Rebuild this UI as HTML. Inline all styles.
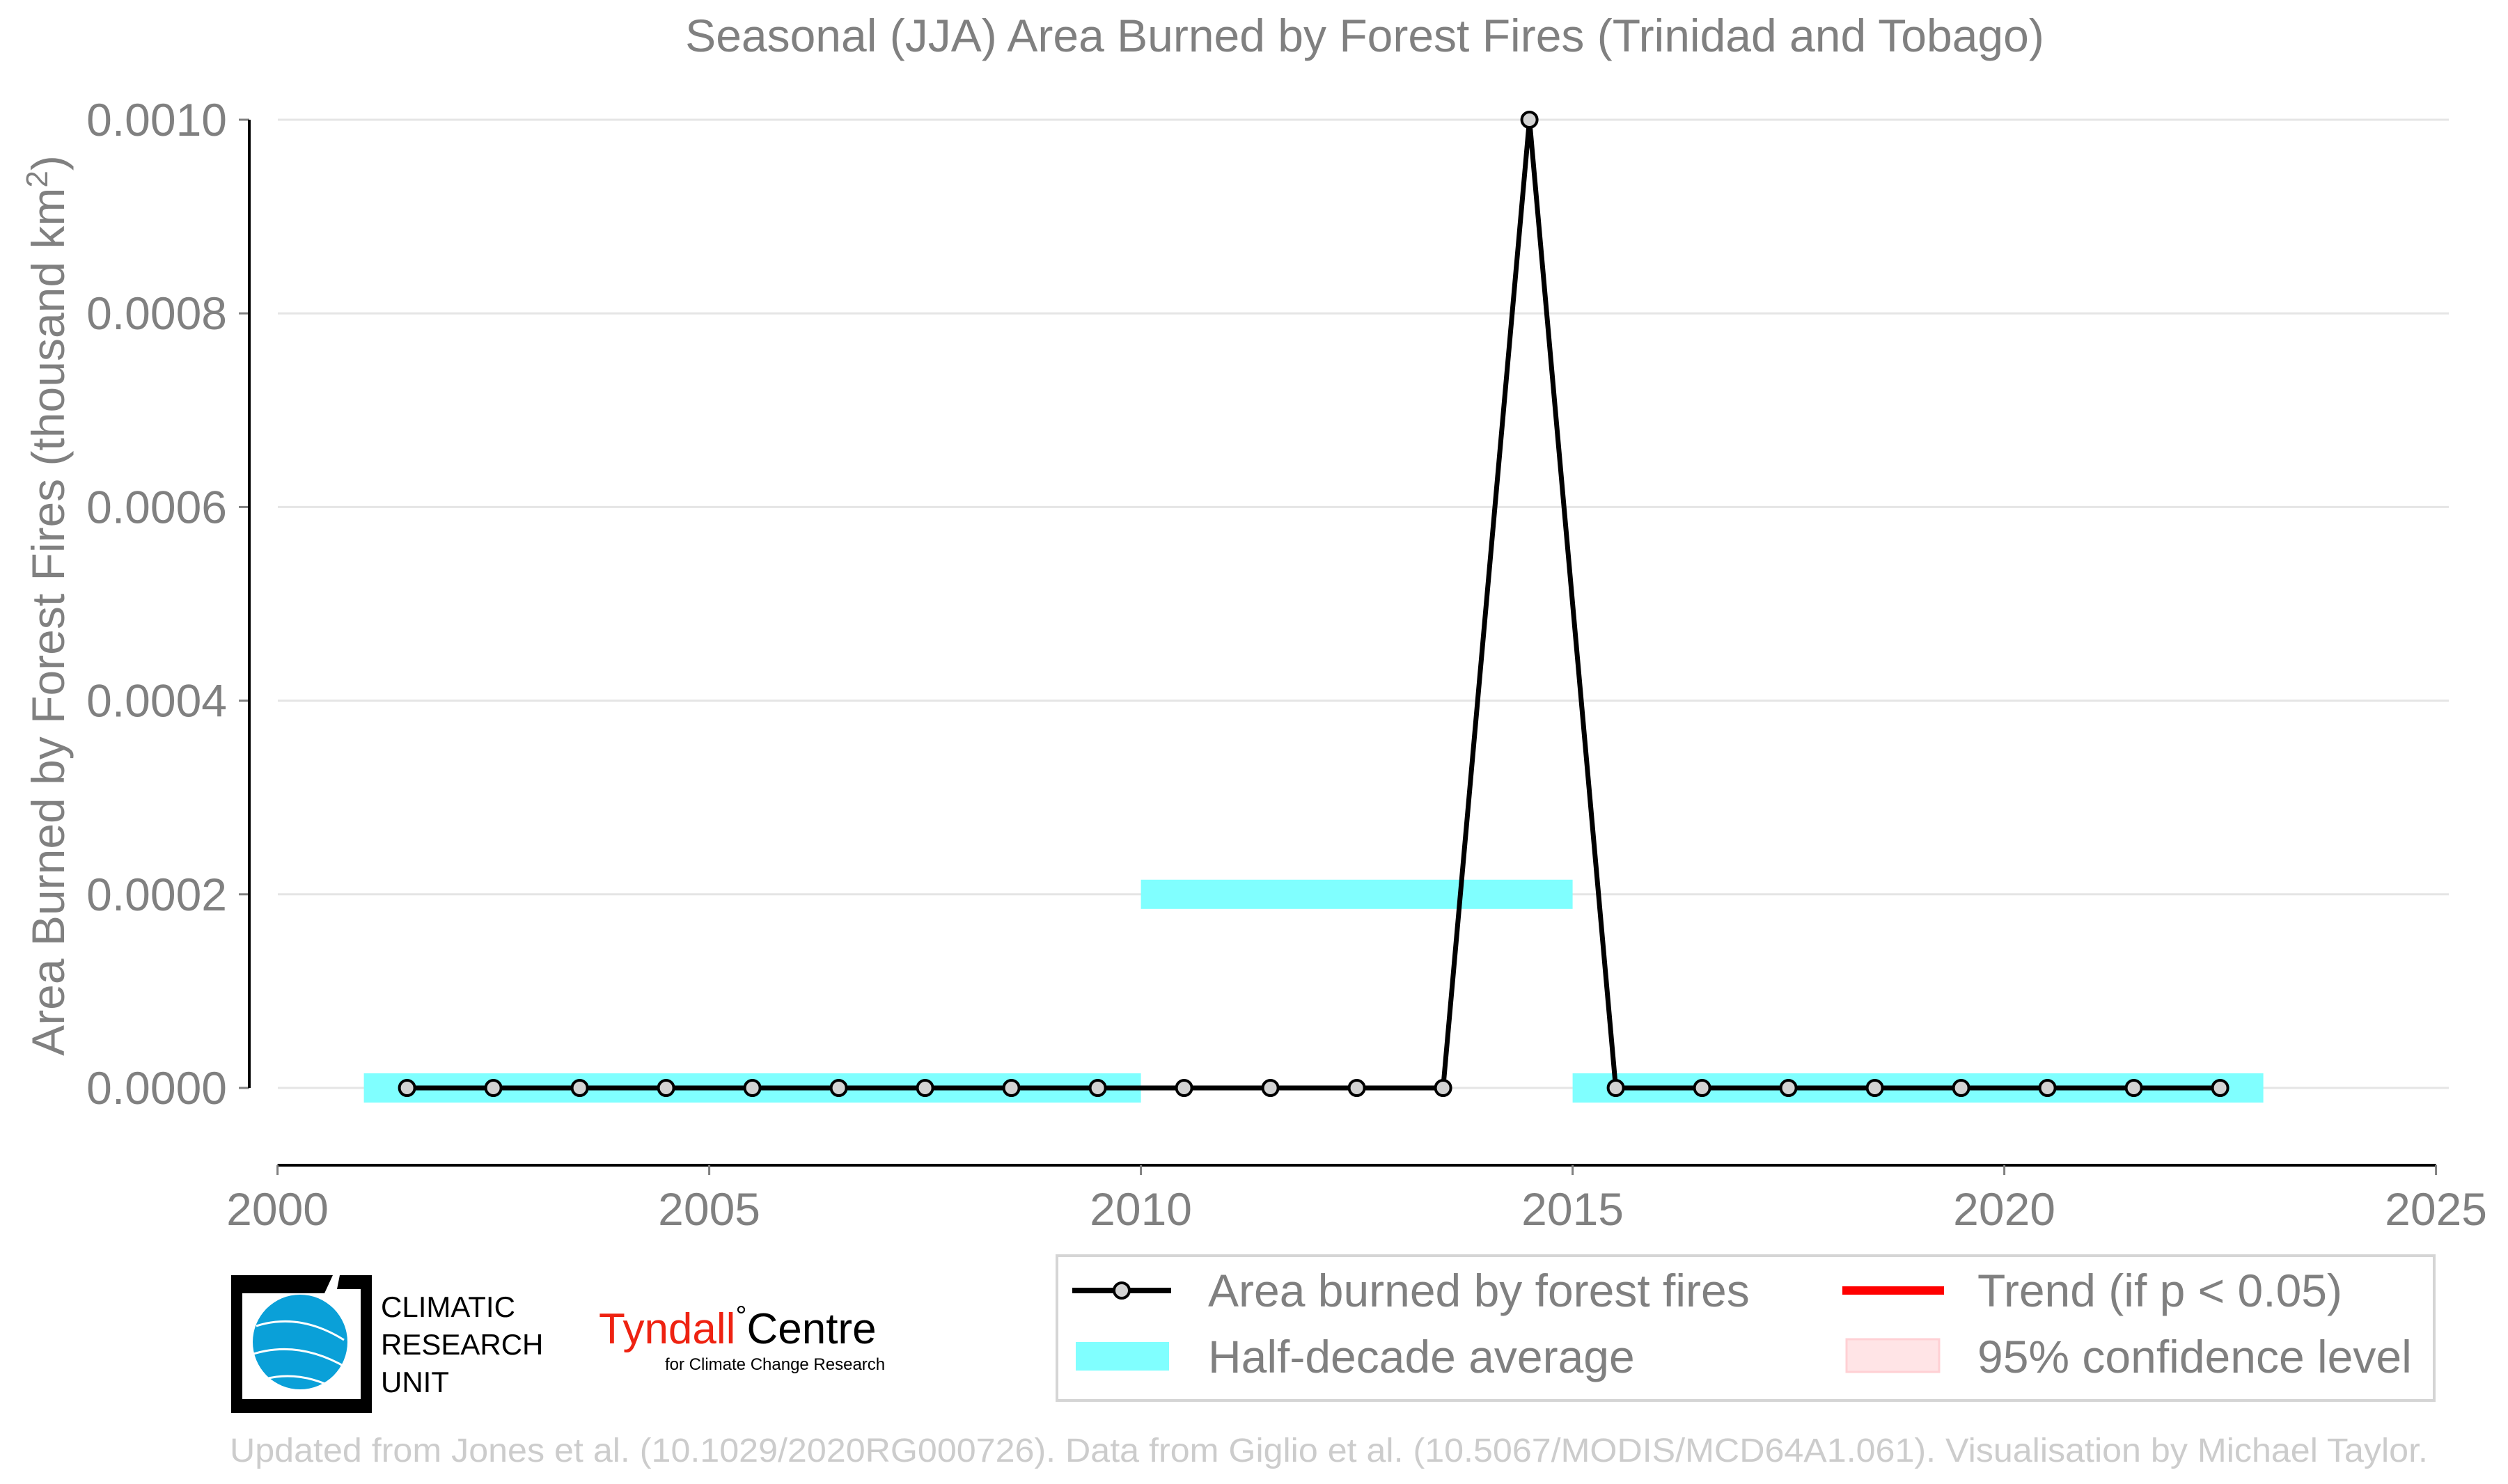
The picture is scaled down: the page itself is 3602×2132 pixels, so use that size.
<!DOCTYPE html>
<html><head><meta charset="utf-8"><style>
body{margin:0;background:#fff;}
svg{display:block;font-family:"Liberation Sans",sans-serif;}
</style></head><body>
<svg id="chart" width="3602" height="2132" viewBox="0 0 3602 2132" xmlns="http://www.w3.org/2000/svg">
<text x="1960" y="74" text-anchor="middle" font-size="66" fill="#808080">Seasonal (JJA) Area Burned by Forest Fires (Trinidad and Tobago)</text>
<text transform="translate(92,870) rotate(-90)" text-anchor="middle" font-size="66" fill="#808080">Area Burned by Forest Fires (thousand km<tspan dy="-24" font-size="44">2</tspan><tspan dy="24">)</tspan></text>
<g id="grid"></g>
<g id="bands"></g>
<g id="series"></g>
<g id="axes"></g>

<g>
<path d="M332 1832 H478 L466 1858 H348 V2010 H400 L393 2030 H332 Z" fill="#000"/>
<path d="M488 1832 H534 V2030 H386 L392 2010 H518 V1852 H484 Z" fill="#000"/>
<circle cx="431" cy="1928" r="68" fill="#0aa0d8"/>
<path d="M368 1905 Q430 1885 494 1925 M364 1945 Q430 1925 498 1965 M378 1982 Q430 1967 486 1997" stroke="#fff" stroke-width="3" fill="none"/>
<text x="547" y="1892" font-size="42" fill="#000">CLIMATIC</text>
<text x="547" y="1946" font-size="42" fill="#000">RESEARCH</text>
<text x="547" y="2000" font-size="42" fill="#000">UNIT</text>
</g>
<g>
<text x="860" y="1930" font-size="62" fill="#ee2211">Tyndall<tspan fill="#000" font-size="40" dy="-26">°</tspan><tspan fill="#000" font-size="62" dy="26">Centre</tspan></text>
<text x="955" y="1968" font-size="24" fill="#000">for Climate Change Research</text>
</g>

<g>
<rect x="1518" y="1804" width="1978" height="208" fill="#fff" stroke="#d5d5d5" stroke-width="4"/>
<line x1="1540" y1="1854" x2="1682" y2="1854" stroke="#000" stroke-width="8"/>
<circle cx="1611" cy="1854" r="11" fill="#d3d3d3" stroke="#000" stroke-width="4"/>
<text x="1735" y="1877" font-size="66" fill="#808080">Area burned by forest fires</text>
<rect x="1545" y="1928" width="134" height="41" fill="#80ffff"/>
<text x="1735" y="1972" font-size="66" fill="#808080">Half-decade average</text>
<line x1="2646" y1="1854" x2="2792" y2="1854" stroke="#ff0000" stroke-width="12"/>
<text x="2840" y="1877" font-size="66" fill="#808080">Trend (if p &lt; 0.05)</text>
<rect x="2652" y="1924" width="133" height="47" fill="#ffe4e6" stroke="#ffd0d4" stroke-width="3"/>
<text x="2840" y="1972" font-size="66" fill="#808080">95% confidence level</text>
</g>
<text x="330" y="2100" font-size="48" fill="#cccccc" textLength="3157" lengthAdjust="spacingAndGlyphs">Updated from Jones et al. (10.1029/2020RG000726). Data from Giglio et al. (10.5067/MODIS/MCD64A1.061). Visualisation by Michael Taylor.</text>
</svg>
<script>
const years=[2001,2002,2003,2004,2005,2006,2007,2008,2009,2010,2011,2012,2013,2014,2015,2016,2017,2018,2019,2020,2021,2022];
const values=[0,0,0,0,0,0,0,0,0,0,0,0,0,0.001,0,0,0,0,0,0,0,0];
const bandStarts=[2001,2010,2015];
const bandEnds=[2010,2015,2023];
const bandValues=[0,0.0002,0];
const yTicks=[0,0.0002,0.0004,0.0006,0.0008,0.001];
const yTickLabels=["0.0000","0.0002","0.0004","0.0006","0.0008","0.0010"];
const xTicks=[2000,2005,2010,2015,2020,2025];

const NS="http://www.w3.org/2000/svg";
function X(v){return 398.6+(v-2000)*124;}
function Y(v){return 1563-v/0.001*1391;}
function mk(tag,attrs,parent){const e=document.createElementNS(NS,tag);for(const k in attrs)e.setAttribute(k,attrs[k]);parent.appendChild(e);return e;}
const grid=document.getElementById('grid'),bands=document.getElementById('bands'),series=document.getElementById('series'),axes=document.getElementById('axes');
yTicks.forEach((t,i)=>{
  const g=mk('line',{x1:399,x2:3517,y1:Y(t),y2:Y(t),stroke:'#e5e5e5','stroke-width':3},grid);
  
  
  const tk=mk('line',{x1:343,x2:358,y1:Y(t),y2:Y(t),stroke:'#808080','stroke-width':3},axes);
  
  
  const lb=mk('text',{x:326,y:Y(t)+23,'text-anchor':'end','font-size':66,fill:'#808080'},axes);
  lb.textContent=yTickLabels[i];
  
  
});
const ys=mk('line',{x1:358,x2:358,y1:Y(0.001),y2:Y(0),stroke:'#000','stroke-width':4},axes);


const xs=mk('line',{x1:X(2000),x2:X(2025),y1:1674,y2:1674,stroke:'#000','stroke-width':4},axes);


xTicks.forEach(t=>{
  const tk=mk('line',{x1:X(t),x2:X(t),y1:1674,y2:1688,stroke:'#808080','stroke-width':3},axes);
  
  
  const lb=mk('text',{x:X(t),y:1760,'text-anchor':'middle','font-size':66,fill:'#808080'},axes);
  lb.textContent=t;
  
  
});
bandStarts.forEach((s,i)=>{
  const r=mk('rect',{x:X(s),y:Y(bandValues[i])-21,width:X(bandEnds[i])-X(s),height:42,fill:'#80ffff'},bands);
  
  
});
const pts=years.map((y,i)=>X(y+0.5)+','+Y(values[i])).join(' ');
const pl=mk('polyline',{points:pts,fill:'none',stroke:'#000','stroke-width':7,'stroke-linejoin':'round'},series);


years.forEach((y,i)=>{
  const c=mk('circle',{cx:X(y+0.5),cy:Y(values[i]),r:11,fill:'#d3d3d3',stroke:'#000','stroke-width':4},series);
  
  
});
</script>
</body></html>
